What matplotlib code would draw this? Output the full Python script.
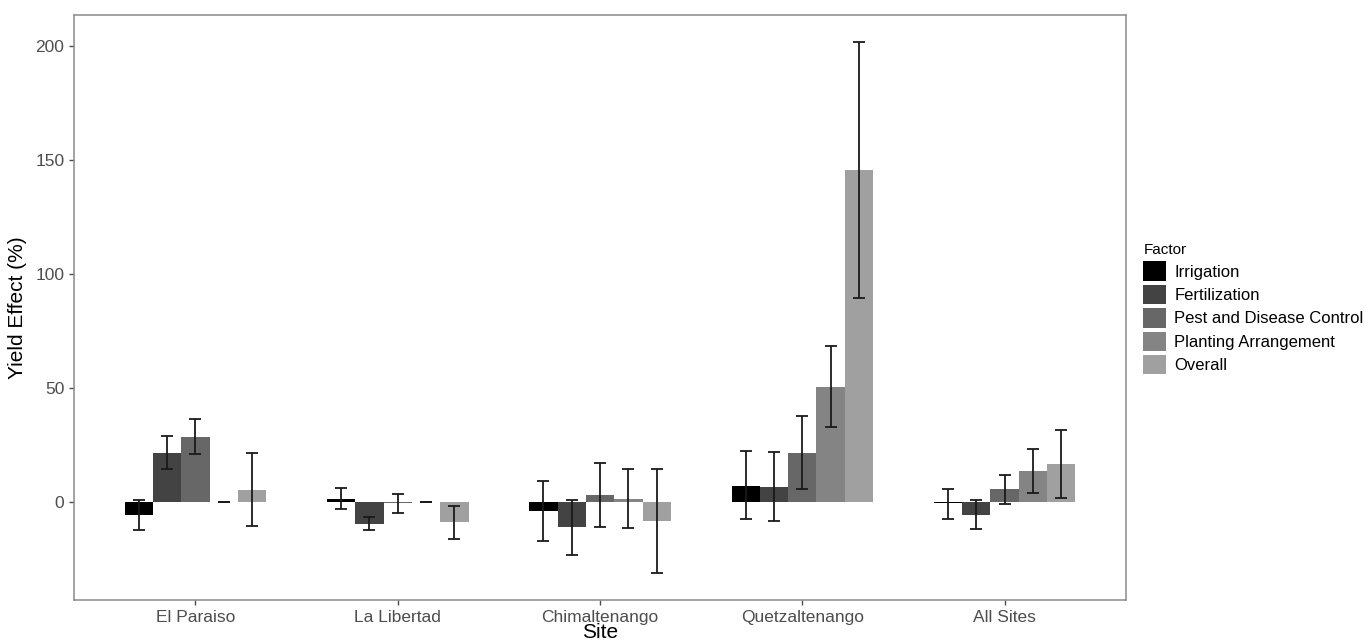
import numpy as np
import matplotlib.pyplot as plt

plt.rcParams["font.family"] = ["Liberation Sans", "DejaVu Sans"]

# yield effect (%) per site, with lower/upper bounds of the error bars
sites = ["El Paraiso", "La Libertad", "Chimaltenango", "Quetzaltenango", "All Sites"]
factors = ["Irrigation", "Fertilization", "Pest and Disease Control",
           "Planting Arrangement", "Overall"]

irrigation = [-5.5, 1.5, -3.6, 7.3, -0.3]
irrigation_lo = [-12.2, -2.8, -16.9, -7.3, -7.1]
irrigation_hi = [0.9, 6.3, 9.2, 22.4, 5.8]

fertilization = [21.8, -9.3, -10.9, 6.8, -5.4]
fertilization_lo = [14.6, -12.0, -23.1, -8.2, -11.6]
fertilization_hi = [29.3, -6.5, 0.9, 21.9, 0.9]

pest = [28.7, -0.3, 3.1, 21.7, 5.7]
pest_lo = [21.3, -4.6, -10.6, 5.8, -0.9]
pest_hi = [36.5, 3.5, 17.3, 37.7, 12.2]

planting = [0.0, 0.0, 1.6, 50.6, 13.8]
planting_lo = [0.0, 0.0, -11.2, 33.0, 4.1]
planting_hi = [0.0, 0.0, 14.7, 68.6, 23.6]

overall = [5.4, -8.7, -8.0, 145.6, 16.8]
overall_lo = [-10.3, -16.2, -31.1, 89.7, 1.9]
overall_hi = [21.7, -1.4, 14.7, 201.9, 31.9]

series = [
    (irrigation, irrigation_lo, irrigation_hi),
    (fertilization, fertilization_lo, fertilization_hi),
    (pest, pest_lo, pest_hi),
    (planting, planting_lo, planting_hi),
    (overall, overall_lo, overall_hi),
]
colors = ["#000000", "#434343", "#676767", "#848484", "#a0a0a0"]

fig = plt.figure(figsize=(13.64, 6.42), dpi=100)
ax = fig.add_axes([0.0543, 0.0654, 0.7712, 0.9112])

x = np.arange(1, len(sites) + 1)
dodge = 0.7
w = dodge / len(factors)

for i, (vals, lo, hi) in enumerate(series):
    vals = np.array(vals)
    lo = np.array(lo)
    hi = np.array(hi)
    pos = x - dodge / 2 + w * (i + 0.5)
    ax.bar(pos, vals, width=w, color=colors[i], label=factors[i], zorder=2)
    ax.errorbar(pos, vals, yerr=[vals - lo, hi - vals], fmt="none",
                ecolor="#1a1a1a", elinewidth=1.3, capsize=4.5, capthick=1.3,
                zorder=3)

all_lo = np.concatenate([s[1] for s in series])
all_hi = np.concatenate([s[2] for s in series])
rng = all_hi.max() - all_lo.min()
ax.set_ylim(all_lo.min() - 0.05 * rng, all_hi.max() + 0.05 * rng)
ax.set_xlim(0.4, len(sites) + 0.6)

ax.set_xticks(x)
ax.set_xticklabels(sites)
ax.set_yticks([0, 50, 100, 150, 200])
ax.tick_params(axis="both", labelsize=12.5, labelcolor="#4d4d4d",
               color="#4d4d4d", length=3.5, width=1)

for sp in ax.spines.values():
    sp.set_color("#8a8a8a")
    sp.set_linewidth(1.1)

ax.set_ylabel("Yield Effect (%)", fontsize=15, labelpad=6)
ax.set_xlabel("Site", fontsize=15, labelpad=-1)

leg = ax.legend(title="Factor", loc="upper left",
                bbox_to_anchor=(1130 / 1364, 1 - 230 / 642),
                bbox_transform=fig.transFigure, frameon=False,
                fontsize=12, title_fontsize=11, borderpad=0.3,
                handlelength=1.35, handleheight=1.4, labelspacing=0.25,
                handletextpad=0.5, alignment="left")

fig.savefig("out.png", dpi=100)
